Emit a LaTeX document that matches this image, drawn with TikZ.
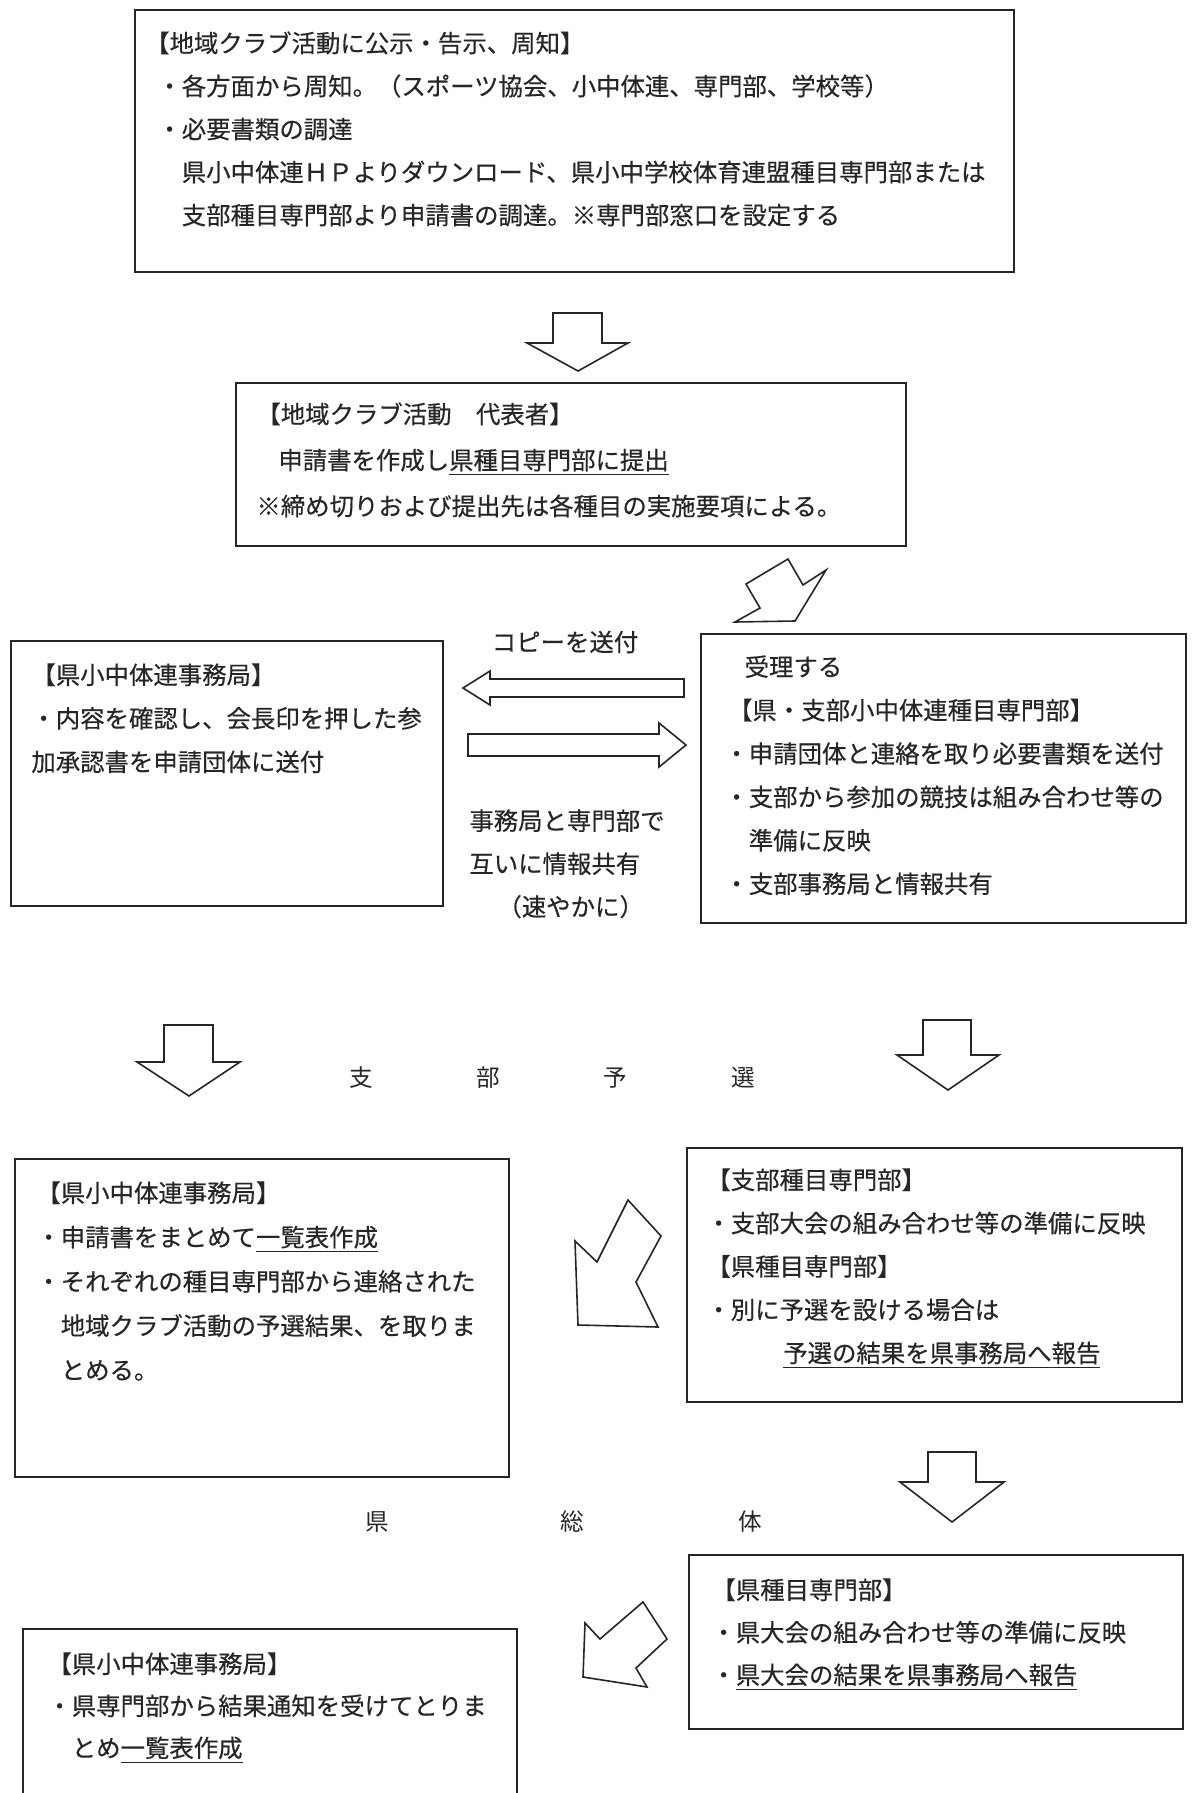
\documentclass[tikz,border=0pt]{standalone}
\usepackage{fontspec}
\newfontfamily\jp{Noto Sans CJK JP}[FakeBold=0.4]
\newfontfamily\jplight{Noto Sans CJK JP}
\usetikzlibrary{fit}
\begin{document}
\begin{tikzpicture}[x=0.5pt,y=-0.5pt]
\tikzset{
  boxs/.style={draw=black!85, line width=1.3pt, inner sep=0pt},
  txt/.style={anchor=north west, align=left, inner sep=0pt, text=black!85},
  barrow/.style={draw=black!85, line width=0.8pt, fill=white, line join=miter},
  lbl/.style={inner sep=0pt, text=black!85, font=\jp\fontsize{12.2}{21.5}\selectfont},
}
\useasboundingbox[fill=white] (0,0) rectangle (1192,1793);

% ---------- boxes ----------
\node[boxs, fit={(135,10) (1014,272)}] (b1) {};
\node[boxs, fit={(236,383) (906,546)}] (b2) {};
\node[boxs, fit={(11,641) (443,906)}] (b3) {};
\node[boxs, fit={(701,634) (1186,923)}] (b4) {};
\node[boxs, fit={(15,1159) (509,1477)}] (b5) {};
\node[boxs, fit={(687,1148) (1182,1402)}] (b6) {};
\node[boxs, fit={(689,1555) (1183,1729)}] (b7) {};
\coordinate (b8bl) at (23,1793);
\coordinate (b8tl) at (23,1629);
\coordinate (b8tr) at (517,1629);
\coordinate (b8br) at (517,1793);
\draw[draw=black!85, line width=1.3pt] (b8bl) -- (b8tl) -- (b8tr) -- (b8br);

% ---------- box texts ----------
\node[txt, font=\jp\fontsize{12.2}{21.5}\selectfont] (t1) at (157,31) {%
\hspace*{-0.5em}【地域クラブ活動に公示・告示、周知】\\
・各方面から周知。（スポーツ協会、小中体連、専門部、学校等）\\
・必要書類の調達\\
\phantom{・}県小中体連ＨＰよりダウンロード、県小中学校体育連盟種目専門部または\\
\phantom{・}支部種目専門部より申請書の調達。※専門部窓口を設定する};

\node[txt, font=\jp\fontsize{12.2}{23}\selectfont] (t2) at (256,402) {%
【地域クラブ活動　代表者】\\
\hspace*{0.9em}申請書を作成し\underline{県種目専門部に提出}\\
※締め切りおよび提出先は各種目の実施要項による。};

\node[txt, font=\jp\fontsize{12.2}{21.75}\selectfont] (t3) at (31,663) {%
【県小中体連事務局】\\
・内容を確認し、会長印を押した参\\
加承認書を申請団体に送付};

\node[txt, font=\jp\fontsize{12.2}{21.7}\selectfont] (t4) at (724,655) {%
\hspace*{0.83em}受理する\\
\hspace*{0.15em}【県・支部小中体連種目専門部】\\
・申請団体と連絡を取り必要書類を送付\\
・支部から参加の競技は組み合わせ等の\\
\phantom{・}準備に反映\\
・支部事務局と情報共有};

\node[txt, font=\jp\fontsize{12.2}{22.15}\selectfont] (t5) at (36,1181) {%
【県小中体連事務局】\\
・申請書をまとめて\underline{一覧表作成}\\
・それぞれの種目専門部から連絡された\\
\phantom{・}地域クラブ活動の予選結果、を取りま\\
\phantom{・}とめる。};

\node[txt, font=\jp\fontsize{12.2}{21.65}\selectfont] (t6) at (706,1168) {%
【支部種目専門部】\\
・支部大会の組み合わせ等の準備に反映\\
【県種目専門部】\\
・別に予選を設ける場合は\\
\hspace*{3.15em}\underline{予選の結果を県事務局へ報告}};

\node[txt, font=\jp\fontsize{12.2}{21.25}\selectfont] (t7) at (711,1578) {%
【県種目専門部】\\
・県大会の組み合わせ等の準備に反映\\
・\underline{県大会の結果を県事務局へ報告}};

\node[txt, font=\jp\fontsize{12.2}{21}\selectfont] (t8) at (47,1652) {%
【県小中体連事務局】\\
・県専門部から結果通知を受けてとりま\\
\phantom{・}とめ\underline{一覧表作成}};

% ---------- free labels ----------
\node[lbl] (copy) at (565,642) {コピーを送付};
\node[txt, font=\jp\fontsize{12.2}{21.5}\selectfont] (share) at (469,809) {%
事務局と専門部で\\
互いに情報共有\\
\hspace*{1.15em}（速やかに）};
\node[lbl, font=\jplight\fontsize{11.8}{21.5}\selectfont] (shibu) at (552,1078) {支\hspace{4.4em}部\hspace{4.4em}予\hspace{4.4em}選};
\node[lbl, font=\jplight\fontsize{11.8}{21.5}\selectfont] (ken) at (564,1522) {県\hspace{7.25em}総\hspace{6.55em}体};

% ---------- block arrows ----------
% b1 -> b2
\draw[barrow] (553,313) -- (602,313) -- (602,343) -- (628,343) -- (578,371) -- (527,343) -- (553,343) -- cycle;
% b2 -> b4 (diagonal)
\draw[barrow] (788,559) -- (803,585) -- (826,570) -- (795,621) -- (735,622) -- (760,608) -- (746,584) -- cycle;
% b4 -> b3 (left)
\draw[barrow] (463,688) -- (490,671) -- (490,679) -- (684,679) -- (684,697) -- (490,697) -- (490,705) -- cycle;
% b3 -> b4 (right)
\draw[barrow] (468,734) -- (659,734) -- (659,723) -- (686,745) -- (659,767) -- (659,756) -- (468,756) -- cycle;
% b3 -> b5
\draw[barrow] (164,1025) -- (213,1025) -- (213,1062) -- (240,1062) -- (189,1096) -- (137,1062) -- (164,1062) -- cycle;
% b4 -> b6
\draw[barrow] (923,1020) -- (971,1020) -- (971,1055) -- (999,1055) -- (948,1090) -- (897,1055) -- (923,1055) -- cycle;
% b6 -> b5 (diagonal)
\draw[barrow] (575,1241) -- (597,1262) -- (628,1200) -- (661,1236) -- (636,1282) -- (658,1327) -- (578,1325) -- cycle;
% b6 -> b7
\draw[barrow] (928,1452) -- (976,1452) -- (976,1482) -- (1004,1482) -- (952,1522) -- (900,1482) -- (928,1482) -- cycle;
% b7 -> b8 (diagonal)
\draw[barrow] (585,1623) -- (600,1639) -- (643,1602) -- (667,1639) -- (636,1668) -- (647,1687) -- (583,1677) -- cycle;
\end{tikzpicture}
\end{document}
